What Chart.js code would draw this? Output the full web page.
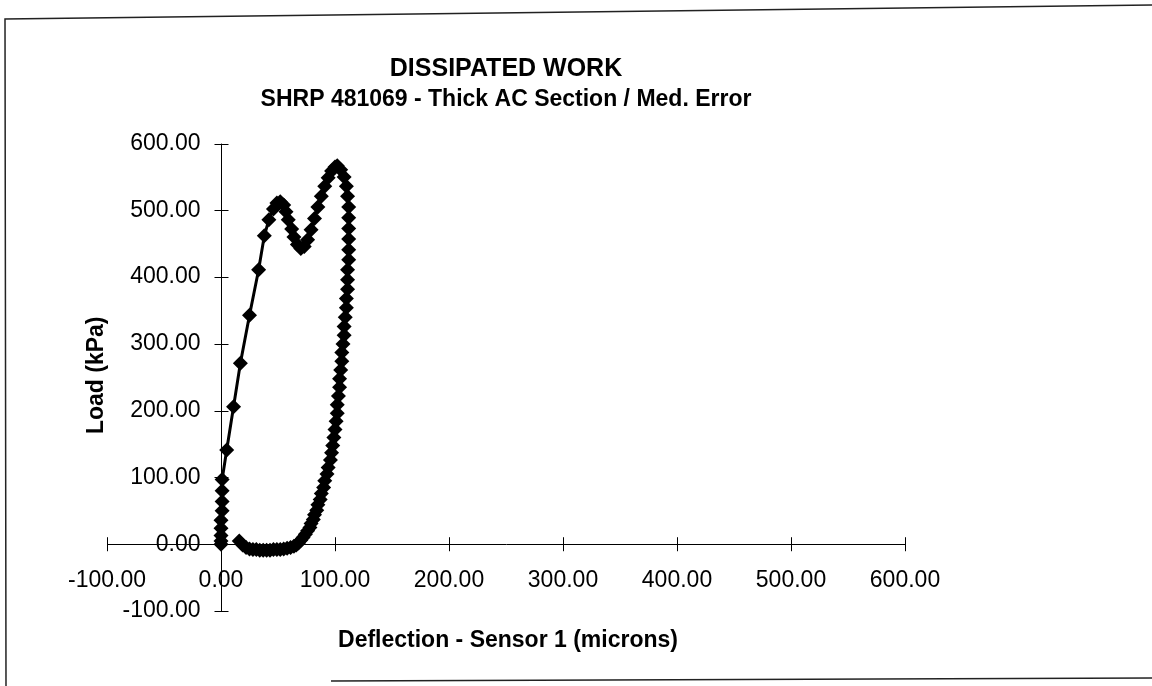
<!DOCTYPE html>
<html>
<head>
<meta charset="utf-8">
<title>Dissipated Work</title>
<script src="https://cdn.jsdelivr.net/npm/chart.js@4.4.1/dist/chart.umd.min.js"></script>
<style>
  body { margin: 0; background: #fff; }
  canvas { display: block; }
</style>
</head>
<body>
<canvas id="grafico_trabalho" width="1152" height="686"></canvas>
<script>
// deflexao (microns) x carga (kPa), carregamento e descarregamento
var deflexao = [0, 0, 0, 0, 0, 1, 1, 1, 1, 5, 11, 17, 25, 33, 38, 42, 46, 49, 52, 55, 57, 59, 62, 64, 67, 70, 73, 76, 79, 82, 85, 88, 91, 94, 97, 100, 102,
    105, 108, 110, 111, 112, 112, 112, 112, 112, 112, 111, 111, 111, 110, 110, 109, 108, 108, 107, 106, 106, 105, 104, 104, 103, 102, 102, 101, 100, 99, 98, 97, 96, 94,
    93, 91, 90, 88, 87, 85, 84, 82, 81, 79, 78, 76, 74, 72, 70, 68, 66, 64, 61, 58, 55, 52, 49, 46, 43, 40, 37, 34, 31, 28, 25, 22, 19, 16];
var carga = [0, 5, 13, 24, 36, 50, 64, 80, 97, 141, 206, 271, 343, 411, 462, 486, 502, 511, 513, 508, 498, 486, 472, 460, 449, 443, 446, 456, 471, 488, 505, 521, 536, 549, 559, 565, 567,
    561, 550, 536, 521, 505, 489, 473, 457, 441, 426, 411, 396, 382, 368, 354, 340, 326, 313, 300, 287, 274, 261, 248, 235, 222, 209, 196, 184, 172, 160, 148, 137, 126, 115,
    105, 95, 85, 76, 67, 59, 51, 44, 37, 31, 25, 20, 15, 10, 6, 2, -1, -3, -5, -6, -7, -8, -8, -8, -9, -9, -9, -9, -8, -8, -7, -5, -1, 5];

var ticksX = [-100, 0, 100, 200, 300, 400, 500, 600];
var ticksY = [-100, 0, 100, 200, 300, 400, 500, 600];

var fonte = '"Liberation Sans", Arial, sans-serif';

var pontos = [];
for (var i = 0; i < deflexao.length; i++) {
    pontos.push({ x: deflexao[i], y: carga[i] });
}

// eixo vertical passando em x = 0, cruzes dos ticks, titulos dos eixos e moldura
const moldura = {
    id: 'moldura',
    beforeDraw(chart) {
        const ctx = chart.ctx;
        ctx.save();
        ctx.fillStyle = '#fff';
        ctx.fillRect(0, 0, chart.width, chart.height);
        ctx.restore();
    },
    afterDraw(chart) {
        const ctx = chart.ctx;
        const sx = chart.scales.x;
        const sy = chart.scales.y;
        const area = chart.chartArea;
        const x0 = Math.round(sx.getPixelForValue(0)) + 0.5;
        const y0 = sy.getPixelForValue(0);
        ctx.save();
        ctx.strokeStyle = '#000';
        ctx.lineWidth = 1;
        ctx.beginPath();
        ctx.moveTo(x0, sy.getPixelForValue(600));
        ctx.lineTo(x0, sy.getPixelForValue(-100));
        ticksX.forEach((v) => {
            const px = Math.round(sx.getPixelForValue(v)) + 0.5;
            ctx.moveTo(px, y0 - 7);
            ctx.lineTo(px, y0 + 7);
        });
        ticksY.forEach((v) => {
            const py = Math.round(sy.getPixelForValue(v)) + 0.5;
            ctx.moveTo(x0 - 7, py);
            ctx.lineTo(x0 + 7, py);
        });
        ctx.stroke();

        ctx.fillStyle = '#000';
        ctx.font = 'bold 23px ' + fonte;
        ctx.textAlign = 'center';
        ctx.textBaseline = 'middle';
        ctx.fillText('Deflection - Sensor 1 (microns)', (area.left + area.right) / 2 + 2, area.bottom + 30);
        ctx.save();
        ctx.translate(area.left - 10, (area.top + area.bottom) / 2 - 2);
        ctx.rotate(-Math.PI / 2);
        ctx.fillText('Load (kPa)', 0, 0);
        ctx.restore();

        ctx.strokeStyle = '#222';
        ctx.lineWidth = 1.5;
        ctx.beginPath();
        ctx.moveTo(1152, 5);
        ctx.lineTo(5, 19);
        ctx.lineTo(6, 686);
        ctx.moveTo(331, 681);
        ctx.lineTo(1152, 678);
        ctx.stroke();
        ctx.restore();
    }
};

const eixoX = {
    type: 'linear',
    position: { y: 0 },
    min: -100,
    max: 600,
    afterFit: (scale) => { scale.height = 0; },
    afterBuildTicks: (scale) => { scale.ticks = ticksX.map((v) => ({ value: v })); },
    border: { display: true, color: '#000', width: 1 },
    grid: { display: false, drawTicks: false },
    ticks: {
        color: '#000',
        padding: 23,
        maxRotation: 0,
        font: { size: 23, family: fonte },
        callback: (v) => v.toFixed(2)
    }
};

// os rotulos ficam um pouco a esquerda da linha do eixo (desenhada no plugin)
const eixoY = {
    type: 'linear',
    position: { x: -18 },
    min: -100,
    max: 600,
    afterFit: (scale) => { scale.width = 0; },
    afterBuildTicks: (scale) => { scale.ticks = ticksY.map((v) => ({ value: v })); },
    border: { display: false },
    grid: { display: false, drawTicks: false },
    ticks: {
        color: '#000',
        font: { size: 23, family: fonte },
        callback: (v) => v.toFixed(2)
    }
};

new Chart(document.getElementById('grafico_trabalho'), {
    type: 'scatter',
    data: {
        datasets: [{
            label: 'Sensor 1',
            data: pontos,
            showLine: true,
            borderColor: '#000',
            borderWidth: 3,
            backgroundColor: '#000',
            pointStyle: 'rectRot',
            pointRadius: 7.5,
            pointBorderWidth: 0,
            tension: 0
        }]
    },
    options: {
        responsive: false,
        animation: false,
        layout: {
            padding: { left: 107, right: 247, top: 54, bottom: 75 }
        },
        plugins: {
            legend: { display: false },
            tooltip: { enabled: false },
            title: {
                display: true,
                text: 'DISSIPATED WORK',
                color: '#000',
                padding: { top: 0, bottom: 0 },
                font: { size: 25, weight: 'bold', family: fonte }
            },
            subtitle: {
                display: true,
                text: 'SHRP 481069 - Thick AC Section / Med. Error',
                color: '#000',
                padding: { top: 2, bottom: 30 },
                font: { size: 23, weight: 'bold', family: fonte }
            }
        },
        scales: {
            x: eixoX,
            y: eixoY
        }
    },
    plugins: [moldura]
});
</script>
</body>
</html>
